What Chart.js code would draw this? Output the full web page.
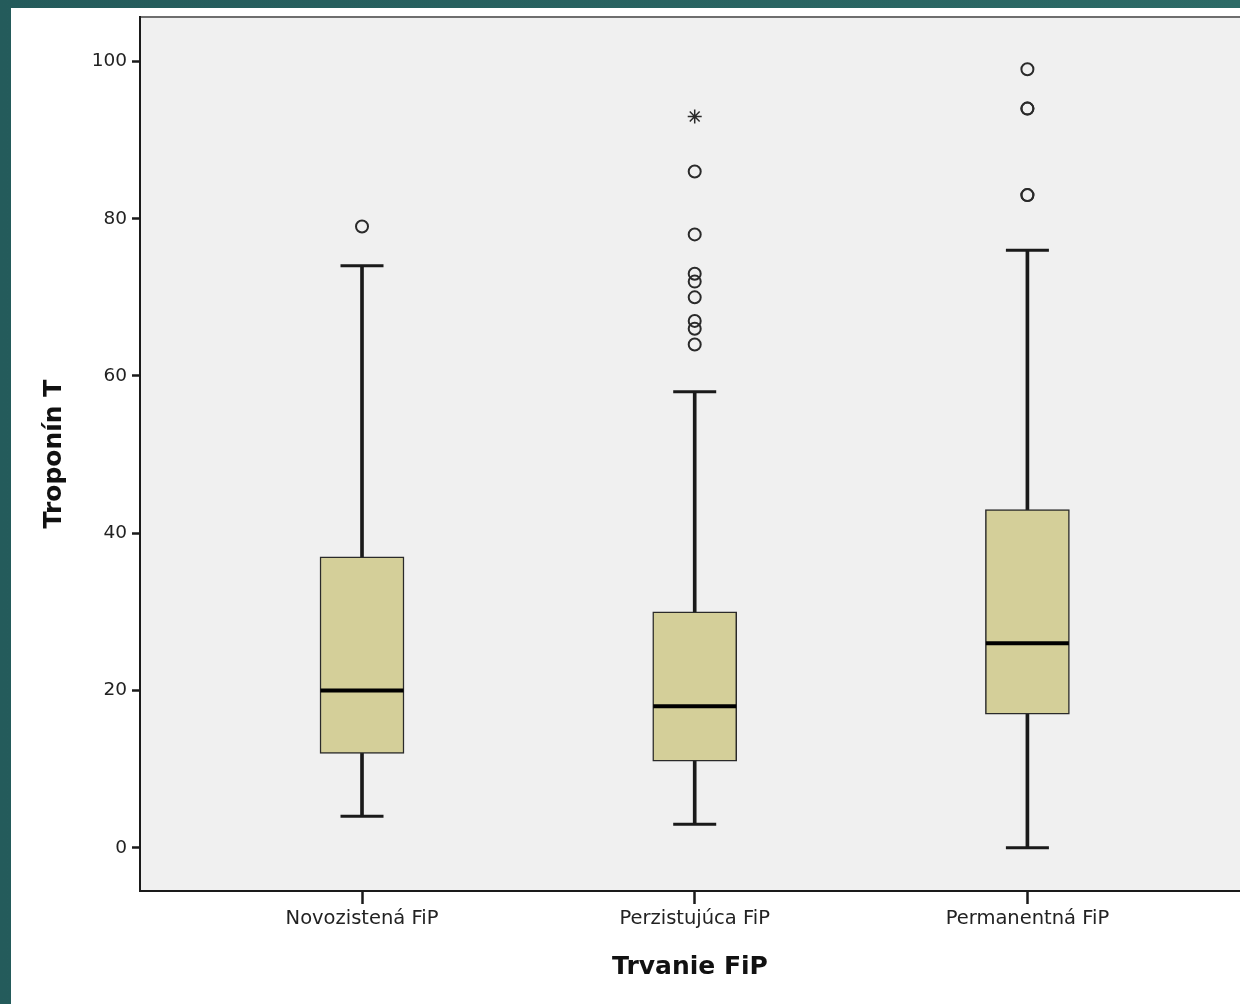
<!DOCTYPE html>
<html>
<head>
<meta charset="utf-8">
<script src="https://cdn.jsdelivr.net/npm/chart.js@4.4.1/dist/chart.umd.min.js"></script>
<style>
body{
    margin:0;
    width:1240px;
    height:1004px;
    overflow:hidden;
    background:linear-gradient(90deg,#245b5b,#2c6a66);
}
#sheet{
    position:absolute;
    left:11px;
    top:8px;
    width:1229px;
    height:996px;
    background:#fff;
}
</style>
</head>
<body>
<div id="sheet">
    <canvas id="boxChart" width="1229" height="996"></canvas>
</div>
<script>
// ================= DATA =================
let categories = ["Novozistená FiP", "Perzistujúca FiP", "Permanentná FiP"];

let whiskerLow  = [4, 3, 0];
let quartile1   = [12, 11, 17];
let medians     = [20, 18, 26];
let quartile3   = [37, 30, 43];
let whiskerHigh = [74, 58, 76];

let outliers = [
    [79],
    [86, 78, 73, 72, 70, 67, 66, 64],
    [99, 94, 94, 83, 83]
];
let extremes = [
    [],
    [93],
    []
];

let yTicks = [0, 20, 40, 60, 80, 100];

// ================= HELPERS =================
let fontFamily = "'DejaVu Sans', Verdana, sans-serif";

function perCategory(values){
    return values.map((v, i) => ({ x: i + 1, y: v }));
}

function flattenPoints(groups){
    let pts = [];
    groups.forEach((list, i) => {
        list.forEach(v => pts.push({ x: i + 1, y: v }));
    });
    return pts;
}

// no extra label padding, the frame sits at fixed spots
function noScalePadding(s){
    s.paddingTop = 0;
    s.paddingBottom = 0;
    s.paddingLeft = 0;
    s.paddingRight = 0;
}

// ================= PLOT BACKGROUND =================
const plotFrame = {
    id: "plotFrame",
    beforeDraw(chart){
        let ctx = chart.ctx;
        let a = chart.chartArea;
        ctx.save();
        ctx.fillStyle = "#f0f0f0";
        ctx.fillRect(a.left, a.top, a.right - a.left, a.bottom - a.top);
        ctx.strokeStyle = "#6e6e6e";
        ctx.lineWidth = 2;
        ctx.beginPath();
        ctx.moveTo(a.left, a.top);
        ctx.lineTo(a.right, a.top);
        ctx.stroke();
        ctx.restore();
    }
};

// ================= CHART =================
let ctx = document.getElementById("boxChart");

new Chart(ctx, {
    type: "bar",
    data: {
        datasets: [
            {
                label: "whiskers",
                order: 6,
                data: categories.map((c, i) => ({ x: i + 1, y: [whiskerLow[i], whiskerHigh[i]] })),
                backgroundColor: "#1a1a1a",
                barThickness: 3,
                grouped: false
            },
            {
                label: "boxes",
                order: 5,
                data: categories.map((c, i) => ({ x: i + 1, y: [quartile1[i], quartile3[i]] })),
                backgroundColor: "#d4cf99",
                borderColor: "#2a2a2a",
                borderWidth: 1.5,
                borderSkipped: false,
                barThickness: 84,
                grouped: false
            },
            {
                label: "caps",
                type: "scatter",
                order: 4,
                data: perCategory(whiskerLow).concat(perCategory(whiskerHigh)),
                pointStyle: "line",
                pointRadius: 21.5,
                borderColor: "#1a1a1a",
                borderWidth: 3
            },
            {
                label: "medians",
                type: "scatter",
                order: 3,
                data: perCategory(medians),
                pointStyle: "line",
                pointRadius: 41.5,
                borderColor: "#000",
                borderWidth: 4
            },
            {
                label: "outliers",
                type: "scatter",
                order: 2,
                data: flattenPoints(outliers),
                pointStyle: "circle",
                pointRadius: 6,
                backgroundColor: "rgba(0,0,0,0)",
                borderColor: "#2a2a2a",
                borderWidth: 2
            },
            {
                label: "extremes",
                type: "scatter",
                order: 1,
                data: flattenPoints(extremes),
                pointStyle: "star",
                pointRadius: 7,
                borderColor: "#2a2a2a",
                borderWidth: 1.5
            }
        ]
    },
    options: {
        responsive: false,
        animation: false,
        events: [],
        layout: {
            autoPadding: false,
            padding: { top: 9, right: 0, bottom: 0, left: 0 }
        },
        plugins: {
            legend: { display: false },
            tooltip: { enabled: false }
        },
        scales: {
            x: {
                type: "linear",
                offset: false,
                min: 0.3327,
                max: 3.639,
                afterBuildTicks: s => {
                    s.ticks = categories.map((c, i) => ({ value: i + 1 }));
                },
                afterFit: s => {
                    s.height = 113;
                    noScalePadding(s);
                },
                ticks: {
                    autoSkip: false,
                    maxRotation: 0,
                    padding: 3,
                    color: "#222",
                    font: { family: fontFamily, size: 19.5 },
                    callback: (v, i) => categories[i]
                },
                grid: {
                    offset: false,
                    drawOnChartArea: false,
                    drawTicks: true,
                    tickLength: 13,
                    tickWidth: 2.5,
                    tickColor: "#1a1a1a"
                },
                border: { display: true, color: "#1a1a1a", width: 2 },
                title: {
                    display: true,
                    text: "Trvanie FiP",
                    color: "#111",
                    font: { family: fontFamily, size: 25, weight: "bold" },
                    padding: { top: 0, bottom: 22 }
                }
            },
            y: {
                type: "linear",
                min: -5.5,
                max: 105.65,
                afterBuildTicks: s => {
                    s.ticks = yTicks.map(v => ({ value: v }));
                },
                afterFit: s => {
                    s.width = 129;
                    noScalePadding(s);
                },
                ticks: {
                    padding: 5,
                    color: "#222",
                    font: { family: fontFamily, size: 18.5 }
                },
                grid: {
                    drawOnChartArea: false,
                    drawTicks: true,
                    tickLength: 8,
                    tickWidth: 2.5,
                    tickColor: "#1a1a1a"
                },
                border: { display: true, color: "#1a1a1a", width: 2 },
                title: {
                    display: true,
                    text: "Troponín T",
                    color: "#111",
                    font: { family: fontFamily, size: 25, weight: "bold" },
                    padding: { top: 28, bottom: 0 }
                }
            }
        }
    },
    plugins: [plotFrame]
});
</script>
</body>
</html>
